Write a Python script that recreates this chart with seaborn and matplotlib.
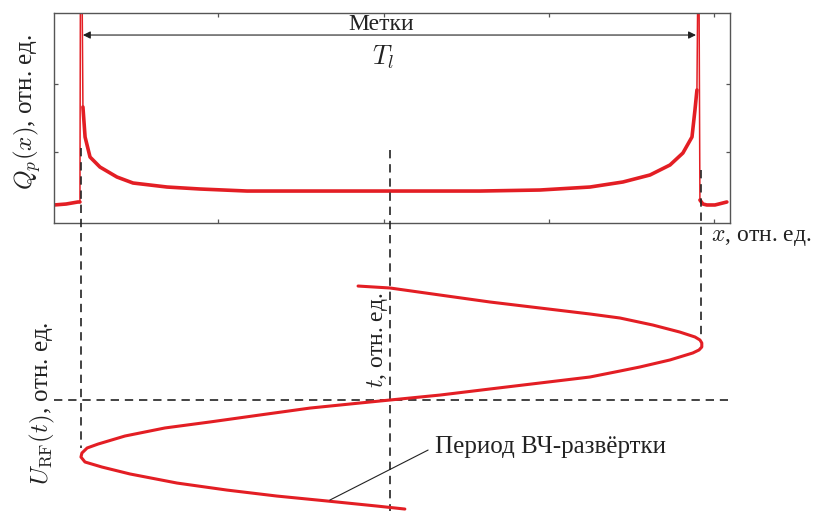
import matplotlib
matplotlib.use("Agg")
import matplotlib.pyplot as plt
import seaborn as sns

sns.set_theme(style="white")
plt.rcParams.update({
    "font.family": ["Liberation Serif", "DejaVu Serif"],
    "mathtext.fontset": "cm",
    "axes.edgecolor": "#555555",
    "axes.linewidth": 1.0,
})

# ── данные: распределение Q_p(x) (верхняя панель) ──────────────────────────────
base_left_x = [0.006, 0.079, 0.151, 0.163]
base_left_y = [0.221, 0.235, 0.265, 0.265]

body_x = [0.181, 0.194, 0.224, 0.284, 0.387, 0.484, 0.690, 0.889, 1.174, 1.494,
          2.039, 2.583, 2.946, 3.249, 3.448, 3.612, 3.733, 3.811, 3.866, 3.884,
          3.896]
body_y = [1.662, 1.221, 0.926, 0.779, 0.632, 0.544, 0.485, 0.456, 0.426, 0.426,
          0.426, 0.426, 0.441, 0.485, 0.559, 0.662, 0.809, 0.985, 1.221, 1.618,
          1.912]

base_right_x = [3.914, 3.932, 3.956, 4.005, 4.077]
base_right_y = [0.294, 0.235, 0.221, 0.221, 0.265]

# пики-метки (уходят за верх рамки)
spike_left_x = [0.163, 0.166, 0.175, 0.181]
spike_left_y = [0.265, 3.680, 3.680, 1.662]
spike_right_x = [3.896, 3.902, 3.908, 3.911, 3.914]
spike_right_y = [1.912, 3.680, 3.680, 1.985, 0.294]

# ── данные: напряжение развёртки U_RF(t) (нижняя часть) ───────────────────────
u_rf = [-0.103, 0.000, 0.161, 0.323, 0.484, 0.645, 0.742, 0.848, 0.935, 0.984,
        1.000, 1.006, 1.006, 0.997, 0.977, 0.903, 0.806, 0.742, 0.645, 0.484,
        0.323, 0.161, 0.000, -0.097, -0.258, -0.419, -0.581, -0.726, -0.855,
        -0.942, -0.977, -0.994, -0.997, -0.984, -0.929, -0.839, -0.687, -0.526,
        -0.365, -0.203, -0.042, 0.048]
t_rf = [0.991, 0.974, 0.913, 0.852, 0.800, 0.748, 0.713, 0.652, 0.591, 0.548,
        0.522, 0.496, 0.461, 0.435, 0.409, 0.348, 0.287, 0.252, 0.200, 0.148,
        0.096, 0.043, 0.000, -0.026, -0.070, -0.130, -0.191, -0.243, -0.313,
        -0.383, -0.417, -0.461, -0.496, -0.539, -0.583, -0.643, -0.722, -0.783,
        -0.835, -0.878, -0.922, -0.948]

RED = "#E31E24"
INK = "#222222"
FS = 18

fig = plt.figure(figsize=(8.22, 5.11), dpi=100)
fig.patch.set_facecolor("white")

# верхняя панель
ax1 = fig.add_axes([54 / 822, 1 - 223 / 511, 676 / 822, 210 / 511])
for xs, ys in [(base_left_x, base_left_y), (body_x, body_y), (base_right_x, base_right_y)]:
    sns.lineplot(x=xs, y=ys, sort=False, estimator=None, color=RED, lw=2.6,
                 solid_joinstyle="round", ax=ax1)
for xs, ys in [(spike_left_x, spike_left_y), (spike_right_x, spike_right_y)]:
    sns.lineplot(x=xs, y=ys, sort=False, estimator=None, color=RED, lw=1.1, ax=ax1)
ax1.set_xlim(0.006, 4.096)
ax1.set_ylim(-0.044, 3.044)
ax1.set_xticks([1, 2, 3, 4])
ax1.set_yticks([1, 2])
ax1.tick_params(direction="in", length=3, width=0.9, color="#555555",
                top=True, right=True, bottom=True, left=True,
                labelbottom=False, labelleft=False)
ax1.set_xlabel("")
ax1.set_ylabel("")

ax1.annotate("", xy=(0.181, 2.72), xytext=(3.890, 2.72),
             arrowprops=dict(arrowstyle="<|-|>", color=INK, lw=0.8,
                             mutation_scale=11, shrinkA=0, shrinkB=0))
ax1.text(1.984, 2.88, "Метки", ha="center", va="center", fontsize=FS - 1, color=INK)
ax1.text(2.0, 2.40, "$T_l$", ha="center", va="center", fontsize=FS + 1, color=INK)

# нижняя часть: прозрачные оси поверх всей фигуры
ax2 = fig.add_axes([54 / 822, 0, 676 / 822, 1 - 13 / 511])
ax2.set_xlim(-1.084, 1.097)
ax2.set_ylim(-0.965, 3.365)
ax2.axis("off")

dash = dict(color=INK, lw=1.2, ls=(0, (5, 3.5)))
ax2.plot([-1.084, 1.090], [0, 0], **dash)
ax2.plot([0, 0], [2.174, -0.965], **dash)
ax2.plot([-0.997, -0.997], [2.19, -0.417], **dash)
ax2.plot([1.003, 1.003], [2.0, 0.539], **dash)

sns.lineplot(x=u_rf, y=t_rf, sort=False, estimator=None, color=RED, lw=2.2,
             solid_joinstyle="round", ax=ax2)
ax2.set_xlabel("")
ax2.set_ylabel("")

ax2.plot([-0.194, 0.123], [-0.870, -0.435], color=INK, lw=0.8)
ax2.text(0.145, -0.409, "Период ВЧ-развёртки", ha="left", va="center",
         fontsize=FS, color=INK)
ax2.text(-0.040, 0.52, "$t$, отн. ед.", rotation=90, ha="center", va="center",
         fontsize=FS - 1, color=INK)

fig.text(27 / 822, 1 - 112 / 511, "$Q_p(x)$, отн. ед.", rotation=90,
         ha="center", va="center", fontsize=FS, color=INK)
fig.text(42 / 822, 1 - 403 / 511, r"$U_{\rm RF}(t)$, отн. ед.", rotation=90,
         ha="center", va="center", fontsize=FS, color=INK)
fig.text(711 / 822, 1 - 237 / 511, "$x$, отн. ед.", ha="left", va="center",
         fontsize=FS - 1, color=INK)

fig.savefig("out.png", dpi=100, facecolor="white")
